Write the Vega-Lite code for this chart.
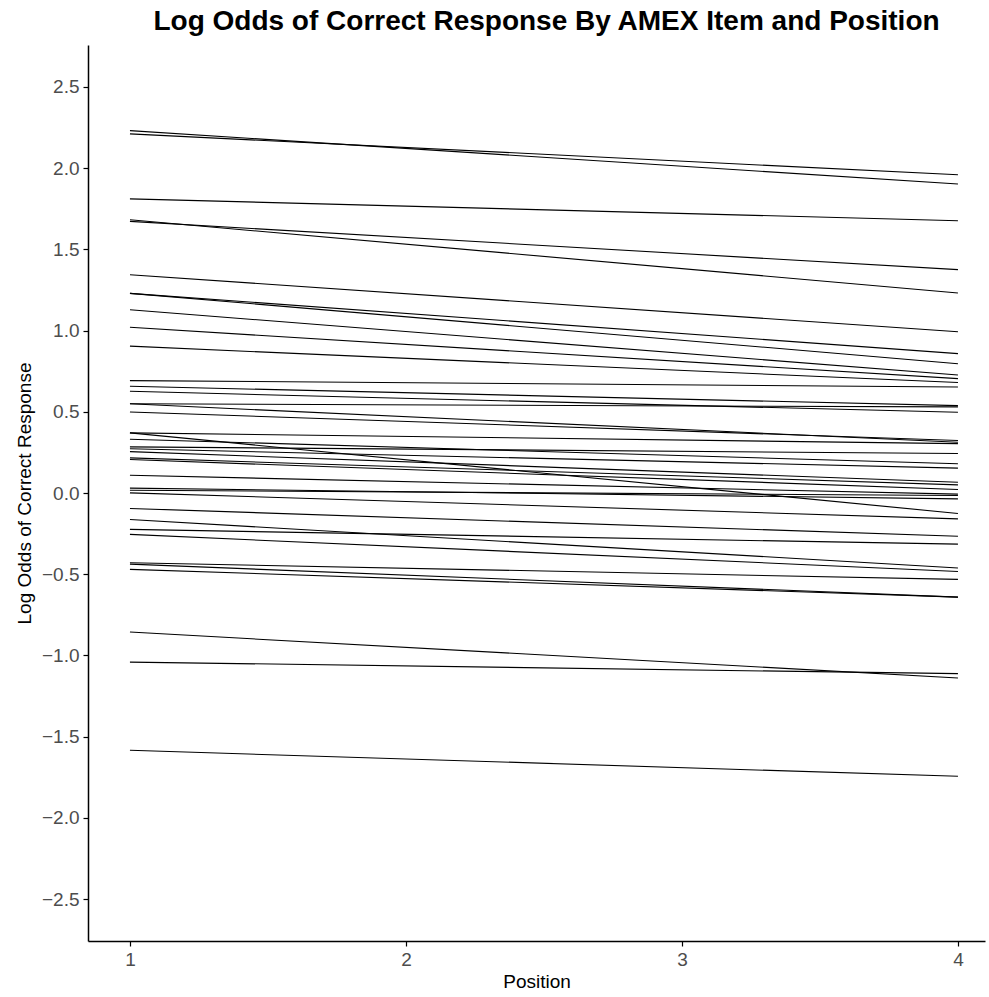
{
  "$schema": "https://vega.github.io/schema/vega-lite/v6.json",
  "width": 897,
  "height": 896,
  "autosize": "none",
  "padding": {"left": 88, "top": 45, "right": 4, "bottom": 56},
  "background": "white",
  "config": {
    "view": {"stroke": null},
    "font": "Liberation Sans"
  },
  "title": {
    "text": "Log Odds of Correct Response By AMEX Item and Position",
    "fontSize": 28,
    "fontWeight": "bold",
    "font": "Liberation Sans",
    "color": "black",
    "anchor": "middle",
    "dx": 10,
    "offset": 9
  },
  "data": {
    "values": [
      {"item": 1, "position": 1, "logodds": 2.231}, {"item": 1, "position": 4, "logodds": 1.902},
      {"item": 2, "position": 1, "logodds": 2.211}, {"item": 2, "position": 4, "logodds": 1.959},
      {"item": 3, "position": 1, "logodds": 1.811}, {"item": 3, "position": 4, "logodds": 1.676},
      {"item": 4, "position": 1, "logodds": 1.682}, {"item": 4, "position": 4, "logodds": 1.231},
      {"item": 5, "position": 1, "logodds": 1.672}, {"item": 5, "position": 4, "logodds": 1.375},
      {"item": 6, "position": 1, "logodds": 1.344}, {"item": 6, "position": 4, "logodds": 0.993},
      {"item": 7, "position": 1, "logodds": 1.229}, {"item": 7, "position": 4, "logodds": 0.858},
      {"item": 8, "position": 1, "logodds": 1.229}, {"item": 8, "position": 4, "logodds": 0.796},
      {"item": 9, "position": 1, "logodds": 1.128}, {"item": 9, "position": 4, "logodds": 0.726},
      {"item": 10, "position": 1, "logodds": 1.020}, {"item": 10, "position": 4, "logodds": 0.704},
      {"item": 11, "position": 1, "logodds": 0.904}, {"item": 11, "position": 4, "logodds": 0.680},
      {"item": 12, "position": 1, "logodds": 0.692}, {"item": 12, "position": 4, "logodds": 0.653},
      {"item": 13, "position": 1, "logodds": 0.657}, {"item": 13, "position": 4, "logodds": 0.538},
      {"item": 14, "position": 1, "logodds": 0.626}, {"item": 14, "position": 4, "logodds": 0.497},
      {"item": 15, "position": 1, "logodds": 0.549}, {"item": 15, "position": 4, "logodds": 0.530},
      {"item": 16, "position": 1, "logodds": 0.549}, {"item": 16, "position": 4, "logodds": 0.312},
      {"item": 17, "position": 1, "logodds": 0.499}, {"item": 17, "position": 4, "logodds": 0.323},
      {"item": 18, "position": 1, "logodds": 0.370}, {"item": 18, "position": 4, "logodds": 0.304},
      {"item": 19, "position": 1, "logodds": 0.370}, {"item": 19, "position": 4, "logodds": -0.126},
      {"item": 20, "position": 1, "logodds": 0.331}, {"item": 20, "position": 4, "logodds": 0.180},
      {"item": 21, "position": 1, "logodds": 0.284}, {"item": 21, "position": 4, "logodds": 0.243},
      {"item": 22, "position": 1, "logodds": 0.272}, {"item": 22, "position": 4, "logodds": 0.153},
      {"item": 23, "position": 1, "logodds": 0.255}, {"item": 23, "position": 4, "logodds": 0.066},
      {"item": 24, "position": 1, "logodds": 0.216}, {"item": 24, "position": 4, "logodds": 0.050},
      {"item": 25, "position": 1, "logodds": 0.206}, {"item": 25, "position": 4, "logodds": 0.022},
      {"item": 26, "position": 1, "logodds": 0.109}, {"item": 26, "position": 4, "logodds": -0.007},
      {"item": 27, "position": 1, "logodds": 0.030}, {"item": 27, "position": 4, "logodds": -0.036},
      {"item": 28, "position": 1, "logodds": 0.017}, {"item": 28, "position": 4, "logodds": -0.015},
      {"item": 29, "position": 1, "logodds": 0.001}, {"item": 29, "position": 4, "logodds": -0.159},
      {"item": 30, "position": 1, "logodds": -0.095}, {"item": 30, "position": 4, "logodds": -0.266},
      {"item": 31, "position": 1, "logodds": -0.163}, {"item": 31, "position": 4, "logodds": -0.462},
      {"item": 32, "position": 1, "logodds": -0.224}, {"item": 32, "position": 4, "logodds": -0.315},
      {"item": 33, "position": 1, "logodds": -0.255}, {"item": 33, "position": 4, "logodds": -0.483},
      {"item": 34, "position": 1, "logodds": -0.429}, {"item": 34, "position": 4, "logodds": -0.532},
      {"item": 35, "position": 1, "logodds": -0.438}, {"item": 35, "position": 4, "logodds": -0.641},
      {"item": 36, "position": 1, "logodds": -0.470}, {"item": 36, "position": 4, "logodds": -0.641},
      {"item": 37, "position": 1, "logodds": -0.856}, {"item": 37, "position": 4, "logodds": -1.139},
      {"item": 38, "position": 1, "logodds": -1.041}, {"item": 38, "position": 4, "logodds": -1.112},
      {"item": 39, "position": 1, "logodds": -1.584}, {"item": 39, "position": 4, "logodds": -1.744}
    ]
  },
  "mark": {"type": "line", "color": "black", "strokeWidth": 1.1},
  "encoding": {
    "x": {
      "field": "position",
      "type": "quantitative",
      "scale": {"domain": [0.848, 4.098], "nice": false, "zero": false},
      "axis": {
        "title": "Position",
        "values": [1, 2, 3, 4],
        "format": "d",
        "grid": false,
        "domainColor": "black",
        "domainWidth": 1.5,
        "tickColor": "black",
        "tickSize": 5,
        "tickWidth": 1.2,
        "labelFontSize": 19,
        "labelColor": "#4D4D4D",
        "labelPadding": 4,
        "titleFontSize": 19,
        "titleFontWeight": "normal",
        "titleColor": "black",
        "titlePadding": 3
      }
    },
    "y": {
      "field": "logodds",
      "type": "quantitative",
      "scale": {"domain": [-2.758, 2.758], "nice": false, "zero": false},
      "axis": {
        "title": "Log Odds of Correct Response",
        "values": [-2.5, -2, -1.5, -1, -0.5, 0, 0.5, 1, 1.5, 2, 2.5],
        "format": ".1f",
        "grid": false,
        "domainColor": "black",
        "domainWidth": 1.5,
        "tickColor": "black",
        "tickSize": 5,
        "tickWidth": 1.2,
        "labelFontSize": 19,
        "labelColor": "#4D4D4D",
        "labelPadding": 4,
        "titleFontSize": 19,
        "titleFontWeight": "normal",
        "titleColor": "black",
        "titlePadding": 7
      }
    },
    "detail": {"field": "item", "type": "nominal"}
  }
}
